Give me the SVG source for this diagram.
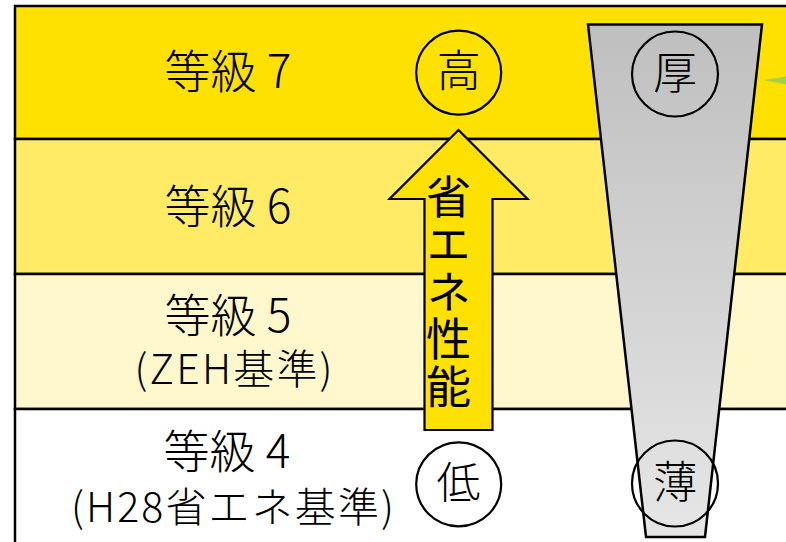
<svg xmlns="http://www.w3.org/2000/svg" width="786" height="542" viewBox="0 0 786 542">
  <defs>
    <linearGradient id="gray" x1="0" y1="0" x2="0" y2="1">
      <stop offset="0" stop-color="#BFBFBF"/>
      <stop offset="1" stop-color="#E6E6E6"/>
    </linearGradient>
    <style>
      .band { stroke: #000; stroke-width: 2.5; }
      .lbl { font-family: "Noto Sans CJK JP", "Noto Sans", sans-serif; font-weight: 300; fill: #000; text-anchor: middle; }
      .l1 { font-size: 46px; }
      .l2 { font-size: 41px; }
      .ring { fill: none; stroke: #000; stroke-width: 2.2; }
      .ch { font-family: "Noto Sans CJK JP", sans-serif; font-weight: 300; font-size: 44px; text-anchor: middle; fill: #000; }
      .vt { font-family: "Noto Sans CJK JP", sans-serif; font-weight: 400; font-size: 45px; fill: #000; writing-mode: vertical-rl; text-orientation: upright; letter-spacing: 2.6px; }
    </style>
  </defs>
  <rect x="0" y="0" width="786" height="542" fill="#FFFFFF"/>

  <g id="band7">
    <rect class="band" x="15" y="6" width="780" height="133" fill="#FFE100"/>
    <text class="lbl l1" x="228" y="88">等級 7</text>
  </g>
  <g id="band6">
    <rect class="band" x="15" y="139" width="780" height="135" fill="#FFEB66"/>
    <text class="lbl l1" x="228" y="223">等級 6</text>
  </g>
  <g id="band5">
    <rect class="band" x="15" y="274" width="780" height="135" fill="#FFF8CC"/>
    <text class="lbl"><tspan class="l1" x="228" y="332">等級 5</tspan><tspan class="l2" x="233.5" y="384" textLength="198" lengthAdjust="spacing">(ZEH基準)</tspan></text>
  </g>
  <g id="band4">
    <rect class="band" x="15" y="409" width="780" height="140" fill="#FFFFFF"/>
    <text class="lbl"><tspan class="l1" x="227" y="468">等級 4</tspan><tspan class="l2" x="232.5" y="522" textLength="323" lengthAdjust="spacing">(H28省エネ基準)</tspan></text>
  </g>

  <g id="thickness">
    <polygon points="588,24.5 762,24.5 705,537 646,537" fill="url(#gray)" stroke="#000" stroke-width="2.5" stroke-linejoin="miter"/>
  </g>

  <g id="green-mark">
    <polygon points="763,80 786,76.5 786,84.5" fill="#92D050" opacity="0.85"/>
  </g>

  <g id="connectors">
    <g id="arrow">
      <polygon points="458.5,130 527.5,199 492.5,199 492.5,430 424.5,430 424.5,199 389.5,199" fill="#FFE100" stroke="#000" stroke-width="2.2" stroke-linejoin="miter"/>
      <text class="vt" x="448.5" y="174">省エネ性能</text>
    </g>
  </g>

  <g id="high">
    <ellipse class="ring" cx="458.7" cy="72.7" rx="42.5" ry="42"/>
    <text class="ch" x="458.7" y="87">高</text>
  </g>
  <g id="thick">
    <ellipse class="ring" cx="675" cy="74" rx="43" ry="42.5"/>
    <text class="ch" x="675" y="88.5">厚</text>
  </g>
  <g id="low">
    <ellipse class="ring" cx="458.7" cy="484.3" rx="42.5" ry="42"/>
    <text class="ch" x="458.5" y="499">低</text>
  </g>
  <g id="thin">
    <ellipse class="ring" cx="675" cy="483.5" rx="43" ry="43"/>
    <text class="ch" x="675.3" y="498">薄</text>
  </g>
</svg>
